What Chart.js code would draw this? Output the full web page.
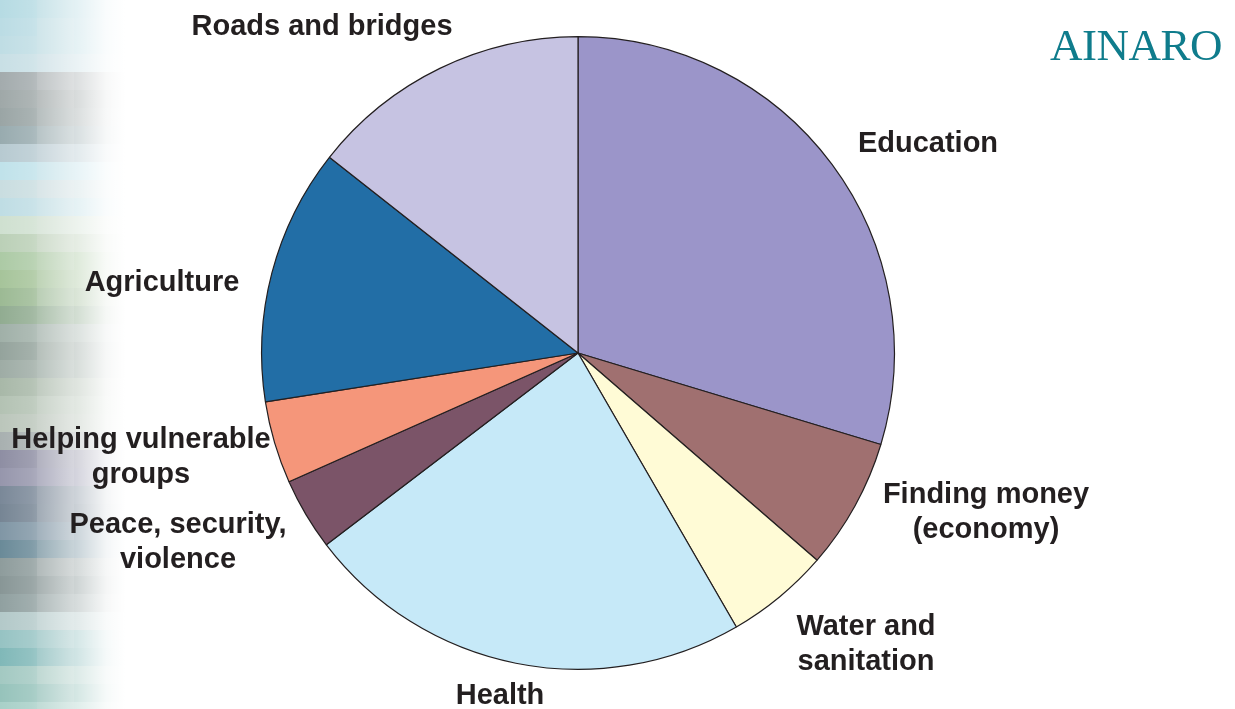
<!DOCTYPE html>
<html>
<head>
<meta charset="utf-8">
<script src="https://cdn.jsdelivr.net/npm/chart.js@4.4.0/dist/chart.umd.min.js"></script>
<style>
  html, body { margin: 0; padding: 0; background: #fff; }
  #wrap { position: relative; width: 1235px; height: 709px; }
  #brand {
    position: absolute; right: 13px; top: 19px;
    font-family: "Liberation Serif", "DejaVu Serif", serif;
    font-size: 45px; color: #0f7c8c; letter-spacing: -0.5px;
  }
</style>
</head>
<body>
<div id="wrap">
  <canvas id="pie" width="1235" height="709"></canvas>
  <div id="brand">AINARO</div>
</div>
<script>
// slices, clockwise from 12 o'clock
const categories = ["Education", "Finding money (economy)", "Water and sanitation", "Health",
    "Peace, security, violence", "Helping vulnerable groups", "Agriculture", "Roads and bridges"];
const shares = [29.7, 6.7, 5.3, 23.0, 3.7, 4.2, 13.1, 14.4];

const sliceColors = ["#9b95c9", "#a07070", "#fffbd6", "#c6e9f8", "#7b5468", "#f5967a", "#226ea6", "#c6c3e2"];

// label text lines and where they sit on the page
const labelLines = [["Education"], ["Finding money", "(economy)"], ["Water and", "sanitation"], ["Health"],
    ["Peace, security,", "violence"], ["Helping vulnerable", "groups"], ["Agriculture"], ["Roads and bridges"]];
const labelPos = [[928, 144], [986, 495], [866, 627], [500, 696], [178, 525], [141, 440], [162, 283], [322, 27]];

// blurry photo strip on the left edge, one colour per 18px row
const stripRows = ["#b6dbe3", "#b9dce4", "#bcdde4", "#c8dfe5", "#a0a8aa", "#9aa3a3", "#9aa5a5", "#94a8ac",
    "#b4c8d0", "#c0e2ea", "#c8dde0", "#bcdde4", "#cfe0d0", "#b9cfb5", "#a8c8a0", "#a6c49a", "#98b890",
    "#8aa88a", "#a0b0a8", "#90a098", "#98a8a0", "#a8b8a8", "#b0c0b0", "#b8c4b8", "#a8b0b0", "#8a8aa0",
    "#9090a8", "#7a8898", "#708090", "#7890a0", "#6a8a98", "#8a9898", "#809090", "#90a0a0", "#b0c8c8",
    "#90c0c0", "#80b8b8", "#a0c8c0", "#90c0b8", "#a8d0c8"];

const stripPlugin = {
    id: "strip",
    beforeDraw(chart) {
        const ctx = chart.ctx;
        ctx.save();
        ctx.fillStyle = "#fff";
        ctx.fillRect(0, 0, chart.width, chart.height);
        const shade = [0, 0.12, 0.05, 0.2, 0.08, 0.15];
        stripRows.forEach((c, r) => {
            for (let i = 0; i < 4; i++) {
                ctx.globalAlpha = 1;
                ctx.fillStyle = c;
                ctx.fillRect(i * 37, r * 18, 37, 18);
                // small per-block variation toward light grey
                ctx.globalAlpha = shade[(r * 2 + i) % shade.length];
                ctx.fillStyle = "#e4e4e4";
                ctx.fillRect(i * 37, r * 18, 37, 18);
            }
        });
        ctx.globalAlpha = 1;
        const g = ctx.createLinearGradient(0, 0, 125, 0);
        g.addColorStop(0, "rgba(255,255,255,0)");
        g.addColorStop(0.25, "rgba(255,255,255,0.15)");
        g.addColorStop(0.6, "rgba(255,255,255,0.6)");
        g.addColorStop(0.85, "rgba(255,255,255,0.92)");
        g.addColorStop(1, "rgba(255,255,255,1)");
        ctx.fillStyle = g;
        ctx.fillRect(0, 0, 148, chart.height);
        ctx.restore();
    }
};

const labelPlugin = {
    id: "sliceLabels",
    afterDraw(chart) {
        const ctx = chart.ctx;
        ctx.save();
        ctx.font = "bold 29px 'Liberation Sans', Arial, sans-serif";
        ctx.fillStyle = "#231f20";
        ctx.textAlign = "center";
        ctx.textBaseline = "middle";
        labelLines.forEach((lines, i) => {
            lines.forEach((t, k) => {
                ctx.fillText(t, labelPos[i][0], labelPos[i][1] + k * 35);
            });
        });
        ctx.restore();
    }
};

new Chart(document.getElementById("pie"), {
    type: "pie",
    data: {
        labels: categories,
        datasets: [{
            data: shares,
            backgroundColor: sliceColors,
            borderColor: "#231f20",
            borderWidth: 1.2
        }]
    },
    options: {
        responsive: false,
        animation: false,
        layout: {
            padding: { left: 261, right: 340, top: 36, bottom: 39 }
        },
        plugins: {
            legend: { display: false },
            tooltip: { enabled: false }
        }
    },
    plugins: [stripPlugin, labelPlugin]
});
</script>
</body>
</html>
